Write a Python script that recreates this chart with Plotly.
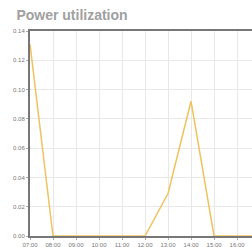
import plotly.graph_objects as go

hours = [7, 8, 9, 10, 11, 12, 13, 14, 15, 16, 17]
tick_labels = ["07:00", "08:00", "09:00", "10:00", "11:00", "12:00", "13:00", "14:00", "15:00", "16:00", "17:00"]
power = [0.131, 0, 0, 0, 0, 0, 0.029, 0.092, 0, 0, 0]
y_ticks = [0, 0.02, 0.04, 0.06, 0.08, 0.10, 0.12, 0.14]
y_labels = ["0.00", "0.02", "0.04", "0.06", "0.08", "0.10", "0.12", "0.14"]

fig = go.Figure(go.Scatter(x=hours, y=power, mode="lines",
                           line=dict(color="#eec35e", width=1.5)))
fig.update_layout(
    width=252, height=247,
    margin=dict(l=30, r=0, t=31, b=11),
    paper_bgcolor="white", plot_bgcolor="white",
    showlegend=False,
    title=dict(text="<b>Power utilization</b>", x=0.065, xanchor="left", y=0.94, yanchor="middle",
               font=dict(family="Liberation Sans, Arial", size=14, color="#a0a0a0")),
    xaxis=dict(range=[7, 16.65], tickvals=hours, ticktext=tick_labels,
               showgrid=True, gridcolor="#e8e8e8", gridwidth=1,
               showline=True, linecolor="#777777", linewidth=2, mirror=True,
               ticks="outside", ticklen=2, tickcolor="#aaaaaa",
               tickfont=dict(family="Liberation Sans, Arial", size=6, color="#777777"),
               zeroline=False, fixedrange=True),
    yaxis=dict(range=[0, 0.14], tickvals=y_ticks, ticktext=y_labels,
               showgrid=True, gridcolor="#e8e8e8", gridwidth=1,
               showline=True, linecolor="#777777", linewidth=2, mirror=False,
               ticks="outside", ticklen=2, tickcolor="#aaaaaa",
               tickfont=dict(family="Liberation Sans, Arial", size=6, color="#777777"),
               zeroline=False, fixedrange=True),
)
fig.write_html("out.html", config={"displayModeBar": False},
               post_script="document.body.style.margin='0';document.body.style.overflow='hidden';")
